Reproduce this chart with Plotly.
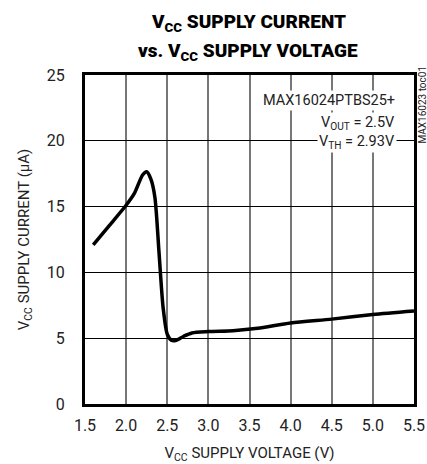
import plotly.graph_objects as go

vcc_v = [1.6, 1.8, 2.0, 2.1, 2.2, 2.25, 2.3, 2.35, 2.4, 2.45, 2.5, 2.55, 2.6, 2.7, 2.8, 3.0, 3.3, 3.6, 4.0, 4.5, 5.0, 5.5]
icc_ua = [12.1, 13.6, 15.1, 16.0, 17.4, 17.65, 17.1, 15.7, 11.5, 7.3, 5.3, 4.85, 4.82, 5.15, 5.4, 5.5, 5.57, 5.75, 6.15, 6.45, 6.8, 7.07]

x_ticks = [1.5, 2.0, 2.5, 3.0, 3.5, 4.0, 4.5, 5.0, 5.5]
x_tick_text = ["1.5", "2.0", "2.5", "3.0", "3.5", "4.0", "4.5", "5.0", "5.5"]
y_ticks = [0, 5, 10, 15, 20, 25]

FONT = "Roboto, Liberation Sans, sans-serif"

fig = go.Figure()
fig.add_trace(go.Scatter(x=vcc_v, y=icc_ua, mode="lines",
                         line=dict(color="black", width=3.5, shape="spline", smoothing=0.7),
                         hoverinfo="skip", showlegend=False))

fig.update_layout(
    width=427, height=464, autosize=False,
    margin=dict(l=85, r=13, t=75, b=60, pad=0),
    paper_bgcolor="white", plot_bgcolor="white",
    font=dict(family=FONT, size=16, color="#222"),
    xaxis=dict(range=[1.5, 5.5], tickvals=x_ticks, ticktext=x_tick_text, automargin=False,
               showgrid=True, gridcolor="#777", gridwidth=1.5,
               showline=True, linecolor="black", linewidth=3, mirror=True,
               ticks="", zeroline=False, ticklabelstandoff=5,
               tickfont=dict(family=FONT, size=16, color="#222"),
               title=dict(text="V<sub>CC</sub> SUPPLY VOLTAGE (V)", standoff=14,
                          font=dict(family=FONT, size=15, color="#222"))),
    yaxis=dict(range=[0, 25], tickvals=y_ticks, automargin=False,
               showgrid=True, gridcolor="black", gridwidth=1,
               showline=True, linecolor="black", linewidth=3, mirror=True,
               ticks="", zeroline=False, ticklabelstandoff=14,
               tickfont=dict(family=FONT, size=16, color="#222"),
               title=dict(text="V<sub>CC</sub> SUPPLY CURRENT (µA)", standoff=14,
                          font=dict(family=FONT, size=15, color="#222"))),
)

title_font = dict(family=FONT, size=19, color="black", weight=900)
fig.add_annotation(x=0.496, y=1.16, xref="paper", yref="paper", xanchor="center", yanchor="middle",
                   text="V<sub>CC</sub> SUPPLY CURRENT", showarrow=False, font=title_font)
fig.add_annotation(x=0.496, y=1.072, xref="paper", yref="paper", xanchor="center", yanchor="middle",
                   text="vs. V<sub>CC</sub> SUPPLY VOLTAGE", showarrow=False, font=title_font)

ann_font = dict(family=FONT, size=14.5, color="#222")
fig.add_annotation(x=0.949, y=0.924, xref="paper", yref="paper", xanchor="right", yanchor="middle",
                   text="MAX16024PTBS25+", showarrow=False, bgcolor="white", font=ann_font, borderpad=1)
fig.add_annotation(x=0.949, y=0.855, xref="paper", yref="paper", xanchor="right", yanchor="middle",
                   text="V<sub>OUT</sub> = 2.5V", showarrow=False, bgcolor="white", font=ann_font, borderpad=1)
fig.add_annotation(x=0.949, y=0.797, xref="paper", yref="paper", xanchor="right", yanchor="middle",
                   text="V<sub>TH</sub> = 2.93V", showarrow=False, bgcolor="white", font=ann_font, borderpad=1)
fig.add_annotation(x=1.0, y=1.0, xref="paper", yref="paper", xanchor="left", yanchor="top",
                   xshift=1, yshift=10, borderpad=0,
                   text="MAX16023 toc01", textangle=-90, showarrow=False,
                   font=dict(family=FONT, size=10, color="#222"))

fig.write_html("out.html", config={"displayModeBar": False},
               post_script="document.body.style.margin='0';document.body.style.overflow='hidden';")
